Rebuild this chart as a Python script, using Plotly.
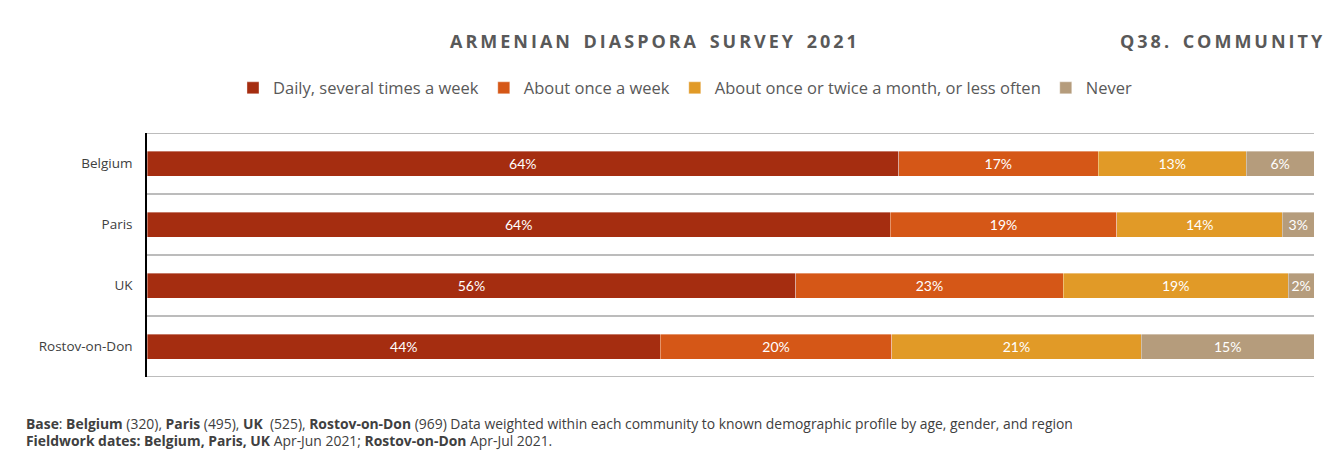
import plotly.graph_objects as go

# data
communities = ['Belgium', 'Paris', 'UK', 'Rostov-on-Don']
series_names = ['Daily, several times a week', 'About once a week',
                'About once or twice a month, or less often', 'Never']
daily = [64.4, 63.7, 55.6, 44.0]
weekly = [17.1, 19.4, 22.9, 19.8]
monthly = [12.7, 14.2, 19.3, 21.4]
never = [5.8, 2.7, 2.2, 14.8]
colors = ['#A52D10', '#D55717', '#E19A27', '#B59C7C']

title_text = 'ARMENIAN DIASPORA SURVEY 2021'
question_text = 'Q38. COMMUNITY'


def spaced(s, gap='\u2009'):
    # imitate the letter spacing of the original header
    return gap.join(s).replace(gap + ' ' + gap, gap + gap + ' ' + gap)


fig = go.Figure()
for name, vals, col in zip(series_names, [daily, weekly, monthly, never], colors):
    fig.add_trace(go.Bar(
        y=communities, x=vals, name=name, orientation='h',
        marker=dict(color=col, line=dict(color='rgba(255,255,255,0.6)', width=0.6)),
        text=[f'{round(v)}%' for v in vals], textposition='inside',
        insidetextanchor='middle', constraintext='none',
        textfont=dict(family='Lato', size=14, color='white'),
        hoverinfo='skip', width=0.41))

# separator lines between the rows
for yv in [-0.5, 0.5, 1.5, 2.5, 3.5]:
    fig.add_shape(type='line', xref='paper', yref='y', x0=0, x1=1, y0=yv, y1=yv,
                  line=dict(color='#A6A6A6', width=1.5), layer='below')

# right edge of the light chart frame
fig.add_shape(type='line', xref='paper', yref='paper', x0=1.018, x1=1.018,
              y0=-0.6, y1=1.6, line=dict(color='#D0D0D0', width=1.5), layer='above')

fig.add_annotation(text='<b>' + spaced(title_text) + '</b>', xref='paper', yref='paper',
                   x=0.4336, y=1.378, xanchor='center', yanchor='middle', showarrow=False,
                   font=dict(family='Open Sans', size=18, color='#595959'))
fig.add_annotation(text='<b>' + spaced(question_text) + '</b>', xref='paper', yref='paper',
                   x=1.0095, y=1.378, xanchor='right', yanchor='middle', showarrow=False,
                   font=dict(family='Open Sans', size=18, color='#595959'))

foot1 = ('<b>Base</b>: <b>Belgium</b> (320), <b>Paris</b> (495), <b>UK</b>  (525), '
         '<b>Rostov-on-Don</b> (969) Data weighted within each community to known '
         'demographic profile by age, gender, and region')
foot2 = ('<b>Fieldwork dates: Belgium, Paris, UK</b> Apr-Jun 2021; '
         '<b>Rostov-on-Don</b> Apr-Jul 2021.')
for txt, yy in [(foot1, -0.189), (foot2, -0.262)]:
    fig.add_annotation(text=txt, xref='paper', yref='paper', x=-0.105, y=yy,
                       xanchor='left', yanchor='middle', showarrow=False,
                       font=dict(family='Open Sans', size=13.9, color='#404040'))

# the page body has an 8px margin, so margins are reduced by 8 on the left/top
fig.update_layout(
    width=1341, height=465,
    barmode='stack',
    paper_bgcolor='white', plot_bgcolor='white',
    margin=dict(l=139, r=35, t=125, b=96),
    showlegend=True,
    legend=dict(orientation='h', x=0.461, xanchor='center', y=1.184, yanchor='middle',
                font=dict(family='Open Sans', size=16.5, color='#595959'),
                itemwidth=30, traceorder='normal'),
    uniformtext=dict(minsize=14, mode='show'),
    bargap=0.59,
)
fig.update_xaxes(range=[0, 100], visible=False, fixedrange=True)
fig.update_yaxes(autorange=False, range=[3.5, -0.5], showgrid=False, ticks='',
                 showline=True, linecolor='black', linewidth=1.5,
                 ticklabelstandoff=10,
                 tickfont=dict(family='Open Sans', size=13.5, color='#404040'))

fig.write_html('out.html')
